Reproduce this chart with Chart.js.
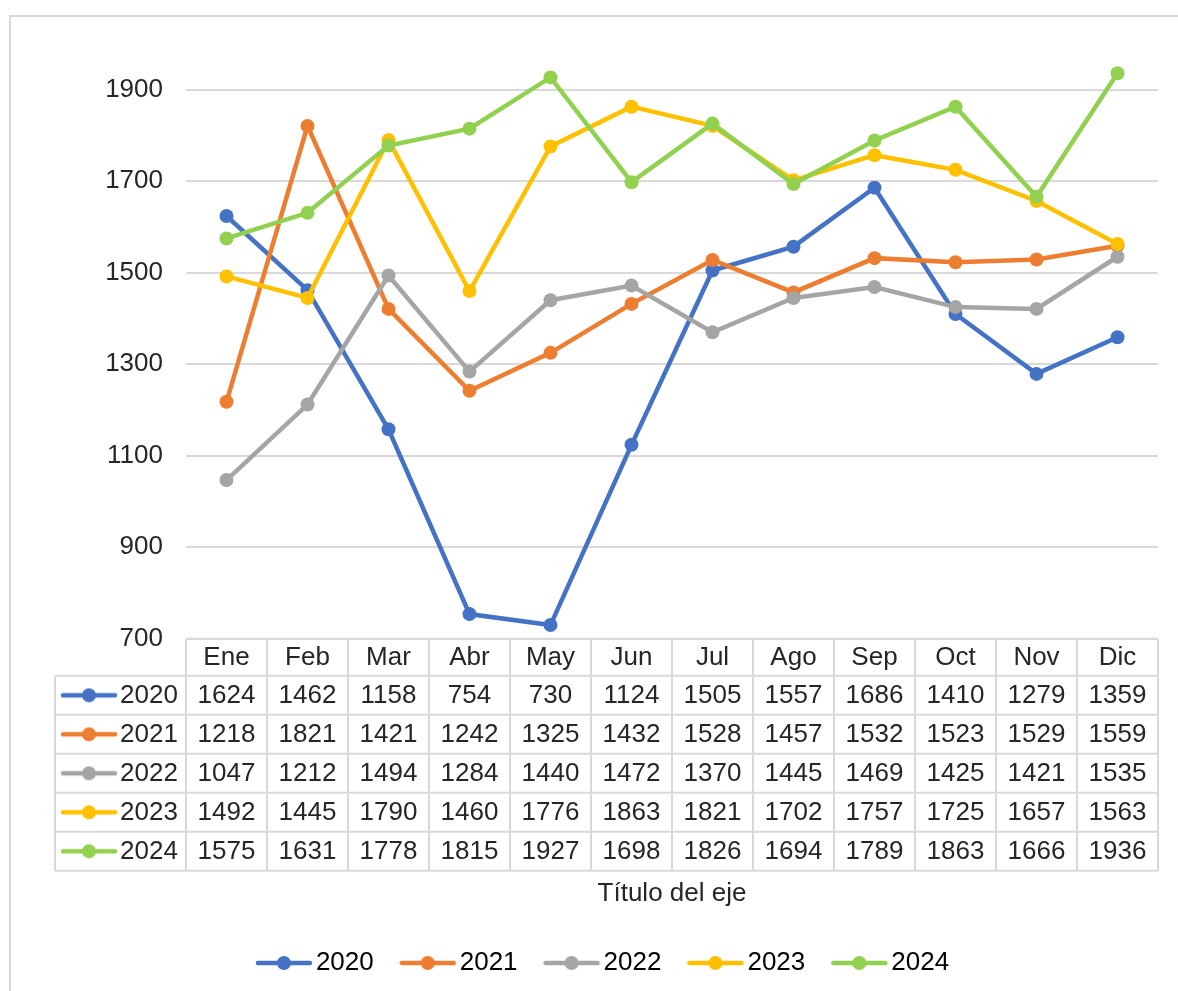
<!DOCTYPE html>
<html lang="es">
<head>
<meta charset="utf-8">
<title>Serie mensual 2020-2024</title>
<script src="https://cdn.jsdelivr.net/npm/chart.js@4"></script>
<style>
    body { margin: 0; background: #fff; }
    #marco { position: relative; width: 1178px; height: 991px; overflow: hidden; }
    #borde { position: absolute; left: 9px; top: 15px; width: 1200px; height: 1000px;
             border-left: 2px solid #d9d9d9; border-top: 2px solid #d9d9d9; }
    #grafico { position: absolute; left: 0; top: 0; }
</style>
</head>
<body>
<div id="marco">
    <div id="borde"></div>
    <canvas id="grafico" width="1178" height="991"></canvas>
</div>
<script>
const meses = ['Ene', 'Feb', 'Mar', 'Abr', 'May', 'Jun', 'Jul', 'Ago', 'Sep', 'Oct', 'Nov', 'Dic'];
const anos = ['2020', '2021', '2022', '2023', '2024'];

const valores2020 = [1624, 1462, 1158, 754, 730, 1124, 1505, 1557, 1686, 1410, 1279, 1359];
const valores2021 = [1218, 1821, 1421, 1242, 1325, 1432, 1528, 1457, 1532, 1523, 1529, 1559];
const valores2022 = [1047, 1212, 1494, 1284, 1440, 1472, 1370, 1445, 1469, 1425, 1421, 1535];
const valores2023 = [1492, 1445, 1790, 1460, 1776, 1863, 1821, 1702, 1757, 1725, 1657, 1563];
const valores2024 = [1575, 1631, 1778, 1815, 1927, 1698, 1826, 1694, 1789, 1863, 1666, 1936];

const ticksY = [700, 900, 1100, 1300, 1500, 1700, 1900];

const colores = ['#4472C4', '#ED7D31', '#A5A5A5', '#FFC000', '#92D050'];
const series = [valores2020, valores2021, valores2022, valores2023, valores2024];

const colorTexto = '#262626';
const colorRejilla = '#d9d9d9';
Chart.defaults.font.family = "'Liberation Sans', Arial, sans-serif";
Chart.defaults.color = colorTexto;

// línea con punto, como en la leyenda de Excel
function crearMuestra(color) {
    const c = document.createElement('canvas');
    c.width = 58;
    c.height = 18;
    const g = c.getContext('2d');
    g.strokeStyle = color;
    g.lineWidth = 4.5;
    g.lineCap = 'round';
    g.beginPath();
    g.moveTo(3, 9);
    g.lineTo(55, 9);
    g.stroke();
    g.fillStyle = color;
    g.beginPath();
    g.arc(29, 9, 7, 0, Math.PI * 2);
    g.fill();
    return c;
}
const muestras = colores.map(crearMuestra);

// tabla de datos debajo del eje X
const tablaDatos = {
    id: 'tablaDatos',
    afterDraw(chart) {
        const ctx = chart.ctx;
        const x = chart.scales.x;
        const arriba = chart.chartArea.bottom;
        const altoCab = 37;
        const altoFila = 39;
        const ancho = x.getPixelForValue(1) - x.getPixelForValue(0);
        const izq = chart.chartArea.left;
        const der = chart.chartArea.right;
        const izqLeyenda = 55;
        const abajo = arriba + altoCab + altoFila * anos.length;

        ctx.save();
        ctx.strokeStyle = colorRejilla;
        ctx.lineWidth = 2;
        ctx.beginPath();
        ctx.moveTo(izq, arriba);
        ctx.lineTo(der, arriba);
        for (let f = 0; f <= anos.length; f++) {
            const y = arriba + altoCab + f * altoFila;
            ctx.moveTo(izqLeyenda, y);
            ctx.lineTo(der, y);
        }
        ctx.moveTo(izqLeyenda, arriba + altoCab);
        ctx.lineTo(izqLeyenda, abajo);
        for (let i = 0; i <= meses.length; i++) {
            const xc = izq + i * ancho;
            ctx.moveTo(xc, arriba);
            ctx.lineTo(xc, abajo);
        }
        ctx.stroke();

        ctx.fillStyle = colorTexto;
        ctx.font = "26px 'Liberation Sans', Arial, sans-serif";
        ctx.textAlign = 'center';
        ctx.textBaseline = 'middle';
        meses.forEach((m, i) => {
            ctx.fillText(m, x.getPixelForValue(i), arriba + altoCab / 2 + 1);
        });
        series.forEach((datos, f) => {
            const yc = arriba + altoCab + f * altoFila + altoFila / 2 + 1;
            datos.forEach((v, i) => {
                ctx.fillText(String(v), x.getPixelForValue(i), yc);
            });
            ctx.drawImage(muestras[f], 60, yc - 10);
            ctx.textAlign = 'left';
            ctx.fillText(anos[f], 120, yc);
            ctx.textAlign = 'center';
        });
        ctx.restore();
    }
};

const ctx = document.getElementById('grafico').getContext('2d');
new Chart(ctx, {
    type: 'line',
    data: {
        labels: meses,
        datasets: series.map((datos, i) => ({
            label: anos[i],
            data: datos,
            borderColor: colores[i],
            backgroundColor: colores[i],
            borderWidth: 4.5,
            pointRadius: 7,
            pointBorderWidth: 0,
            pointBackgroundColor: colores[i],
            tension: 0,
            clip: false,
            order: series.length - 1 - i
        }))
    },
    options: {
        responsive: false,
        animation: false,
        layout: {
            padding: { top: 44, left: 56, right: 20, bottom: 5 }
        },
        scales: {
            x: {
                offset: true,
                grid: { display: false },
                border: { display: false },
                ticks: { display: false },
                title: {
                    display: true,
                    text: 'Título del eje',
                    color: colorTexto,
                    font: { size: 26 },
                    padding: { top: 231, bottom: 6 }
                }
            },
            y: {
                min: 700,
                max: 2000,
                afterBuildTicks: scale => {
                    scale.ticks = ticksY.map(v => ({ value: v }));
                },
                afterFit: scale => {
                    scale.width = 130;
                },
                grid: { color: colorRejilla, lineWidth: 2, drawTicks: false },
                border: { display: false },
                ticks: {
                    padding: 23,
                    color: colorTexto,
                    font: { size: 26 },
                    callback: v => String(v)
                }
            }
        },
        plugins: {
            tooltip: { enabled: false },
            legend: {
                position: 'bottom',
                labels: {
                    usePointStyle: true,
                    pointStyleWidth: 38,
                    boxHeight: 14,
                    padding: 35,
                    color: colorTexto,
                    font: { size: 26 },
                    generateLabels: chart => chart.data.datasets.map((ds, i) => ({
                        text: ds.label,
                        pointStyle: muestras[i],
                        fillStyle: colores[i],
                        strokeStyle: colores[i],
                        lineWidth: 0,
                        hidden: false,
                        datasetIndex: i
                    }))
                }
            }
        }
    },
    plugins: [tablaDatos]
});
</script>
</body>
</html>
